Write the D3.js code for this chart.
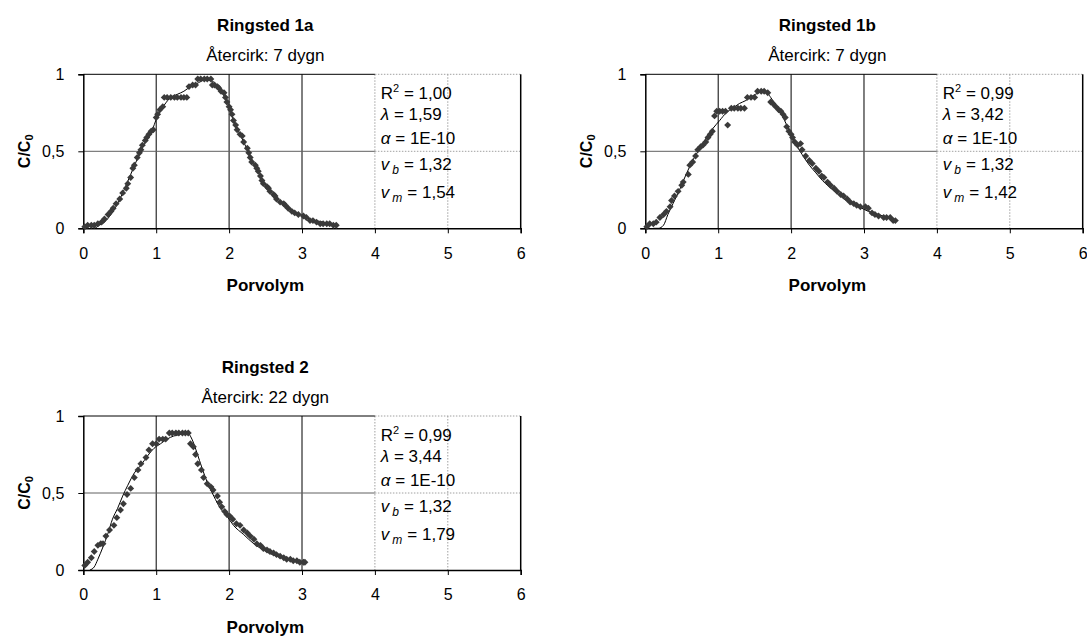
<!DOCTYPE html>
<html lang="da">
<head>
<meta charset="UTF-8">
<title>Ringsted</title>
<script src="https://cdn.jsdelivr.net/npm/d3@7"></script>
<style>
    * { margin: 0; padding: 0 }
    body { background: #fff; }
    text { font-family: "Liberation Sans", Arial, sans-serif; fill: #000; }
</style>
</head>
<body>
<svg id="chart" width="1087" height="637"></svg>
<script>
// --- data ---
const xTicks = [0, 1, 2, 3, 4, 5, 6];
const yTicks = [0, 0.5, 1];
const yTickLabels = ['0', '0,5', '1'];
const xLabel = 'Porvolym';

const titles = ['Ringsted 1a', 'Ringsted 1b', 'Ringsted 2'];
const subtitles = ['Återcirk: 7 dygn', 'Återcirk: 7 dygn', 'Återcirk: 22 dygn'];
const r2Values = ['1,00', '0,99', '0,99'];
const lambdaValues = ['1,59', '3,42', '3,44'];
const alphaValues = ['1E-10', '1E-10', '1E-10'];
const vbValues = ['1,32', '1,32', '1,32'];
const vmValues = ['1,54', '1,42', '1,79'];

// Ringsted 1a
const obs1x = [0.02, 0.06, 0.11, 0.15, 0.20, 0.25, 0.29, 0.34, 0.38, 0.41, 0.45, 0.50, 0.54, 0.59, 0.61, 0.65, 0.68, 0.70, 0.74, 0.77,
    0.79, 0.81, 0.85, 0.87, 0.90, 0.93, 0.96, 1.00, 1.02, 1.05, 1.09, 1.11, 1.15, 1.20, 1.25, 1.29, 1.34, 1.38, 1.42, 1.45,
    1.50, 1.54, 1.57, 1.61, 1.66, 1.70, 1.75, 1.77, 1.80, 1.84, 1.86, 1.89, 1.93, 1.95, 1.97, 2.00, 2.02, 2.04, 2.06, 2.09,
    2.11, 2.15, 2.18, 2.20, 2.25, 2.27, 2.29, 2.31, 2.36, 2.38, 2.40, 2.43, 2.45, 2.47, 2.52, 2.54, 2.56, 2.61, 2.63, 2.65,
    2.70, 2.75, 2.77, 2.81, 2.86, 2.90, 2.95, 3.02, 3.06, 3.11, 3.15, 3.20, 3.25, 3.29, 3.34, 3.38, 3.43, 3.47];
const obs1y = [0.01, 0.02, 0.02, 0.02, 0.03, 0.04, 0.06, 0.09, 0.11, 0.13, 0.16, 0.19, 0.23, 0.26, 0.29, 0.33, 0.39, 0.41, 0.46, 0.49,
    0.51, 0.54, 0.57, 0.59, 0.61, 0.63, 0.64, 0.72, 0.74, 0.77, 0.79, 0.85, 0.85, 0.85, 0.85, 0.85, 0.85, 0.85, 0.85, 0.92,
    0.93, 0.93, 0.97, 0.97, 0.97, 0.97, 0.97, 0.93, 0.93, 0.92, 0.91, 0.89, 0.88, 0.85, 0.82, 0.79, 0.77, 0.74, 0.70, 0.67,
    0.64, 0.61, 0.60, 0.56, 0.52, 0.49, 0.46, 0.43, 0.41, 0.39, 0.37, 0.34, 0.31, 0.29, 0.27, 0.26, 0.24, 0.22, 0.21, 0.19,
    0.17, 0.16, 0.15, 0.13, 0.11, 0.10, 0.09, 0.08, 0.07, 0.05, 0.05, 0.04, 0.03, 0.03, 0.03, 0.03, 0.02, 0.02];
const fit1x = [0.09, 0.15, 0.22, 0.29, 0.38, 0.47, 0.56, 0.65, 0.75, 0.84, 0.93, 1.02, 1.11, 1.20, 1.29, 1.38, 1.47, 1.56, 1.65, 1.72,
    1.79, 1.86, 1.93, 2.00, 2.06, 2.15, 2.25, 2.34, 2.43, 2.52, 2.65, 2.79, 2.93, 3.11, 3.29, 3.47];
const fit1y = [0.00, 0.00, 0.02, 0.04, 0.09, 0.16, 0.25, 0.35, 0.46, 0.55, 0.62, 0.73, 0.80, 0.85, 0.87, 0.89, 0.92, 0.94, 0.96, 0.96,
    0.95, 0.91, 0.86, 0.79, 0.70, 0.61, 0.51, 0.42, 0.34, 0.27, 0.20, 0.14, 0.10, 0.06, 0.04, 0.02];

// Ringsted 1b
const obs2x = [0.02, 0.06, 0.11, 0.15, 0.20, 0.25, 0.29, 0.34, 0.36, 0.40, 0.45, 0.50, 0.52, 0.59, 0.61, 0.65, 0.69, 0.72, 0.76, 0.79,
    0.83, 0.86, 0.89, 0.92, 0.95, 0.98, 1.02, 1.06, 1.10, 1.13, 1.18, 1.22, 1.27, 1.31, 1.36, 1.40, 1.45, 1.50, 1.54, 1.59,
    1.63, 1.68, 1.72, 1.75, 1.79, 1.83, 1.86, 1.89, 1.92, 1.94, 1.97, 2.00, 2.02, 2.05, 2.09, 2.13, 2.15, 2.20, 2.25, 2.29,
    2.34, 2.38, 2.42, 2.45, 2.50, 2.54, 2.59, 2.63, 2.68, 2.72, 2.77, 2.81, 2.86, 2.90, 2.95, 3.02, 3.06, 3.11, 3.15, 3.20,
    3.27, 3.31, 3.36, 3.40, 3.43];
const obs2y = [0.01, 0.03, 0.03, 0.04, 0.07, 0.09, 0.11, 0.14, 0.18, 0.21, 0.24, 0.28, 0.30, 0.35, 0.41, 0.43, 0.47, 0.51, 0.53, 0.54,
    0.56, 0.59, 0.61, 0.63, 0.73, 0.76, 0.76, 0.76, 0.76, 0.67, 0.78, 0.78, 0.78, 0.78, 0.78, 0.85, 0.85, 0.85, 0.89, 0.89,
    0.89, 0.88, 0.82, 0.81, 0.79, 0.77, 0.76, 0.74, 0.72, 0.66, 0.63, 0.61, 0.59, 0.56, 0.54, 0.55, 0.51, 0.47, 0.44, 0.42,
    0.39, 0.37, 0.34, 0.33, 0.30, 0.28, 0.26, 0.24, 0.22, 0.21, 0.19, 0.17, 0.16, 0.15, 0.14, 0.14, 0.13, 0.10, 0.09, 0.08,
    0.07, 0.07, 0.07, 0.05, 0.05];
const fit2x = [0.11, 0.18, 0.25, 0.31, 0.38, 0.47, 0.56, 0.65, 0.75, 0.84, 0.93, 1.02, 1.11, 1.20, 1.29, 1.38, 1.47, 1.56, 1.65, 1.72,
    1.79, 1.86, 1.93, 2.00, 2.06, 2.15, 2.25, 2.34, 2.43, 2.52, 2.65, 2.79, 2.93, 3.06, 3.20, 3.43];
const fit2y = [0.00, 0.00, 0.02, 0.09, 0.16, 0.25, 0.35, 0.44, 0.52, 0.59, 0.65, 0.70, 0.75, 0.78, 0.81, 0.83, 0.86, 0.88, 0.89, 0.85,
    0.80, 0.75, 0.68, 0.61, 0.55, 0.48, 0.41, 0.36, 0.31, 0.27, 0.22, 0.17, 0.14, 0.11, 0.09, 0.05];

// Ringsted 2
const obs3x = [0.02, 0.06, 0.11, 0.15, 0.20, 0.24, 0.27, 0.31, 0.36, 0.42, 0.46, 0.51, 0.55, 0.60, 0.65, 0.70, 0.75, 0.79, 0.86, 0.90,
    0.95, 1.00, 1.04, 1.09, 1.13, 1.18, 1.22, 1.27, 1.31, 1.36, 1.40, 1.44, 1.47, 1.51, 1.54, 1.57, 1.62, 1.65, 1.70, 1.75,
    1.78, 1.84, 1.87, 1.90, 1.94, 1.97, 2.01, 2.05, 2.10, 2.15, 2.20, 2.25, 2.29, 2.34, 2.38, 2.43, 2.47, 2.52, 2.56, 2.61,
    2.65, 2.70, 2.75, 2.79, 2.84, 2.88, 2.93, 2.97, 3.02, 3.04];
const obs3y = [0.03, 0.05, 0.08, 0.12, 0.16, 0.17, 0.17, 0.22, 0.26, 0.29, 0.34, 0.39, 0.43, 0.49, 0.53, 0.60, 0.65, 0.69, 0.73, 0.78,
    0.82, 0.82, 0.85, 0.85, 0.85, 0.89, 0.89, 0.89, 0.89, 0.89, 0.89, 0.89, 0.82, 0.80, 0.75, 0.69, 0.65, 0.60, 0.56, 0.54,
    0.52, 0.48, 0.44, 0.41, 0.38, 0.36, 0.35, 0.33, 0.30, 0.29, 0.26, 0.24, 0.22, 0.20, 0.17, 0.16, 0.14, 0.13, 0.12, 0.11,
    0.10, 0.09, 0.08, 0.07, 0.07, 0.06, 0.06, 0.05, 0.05, 0.05];
const fit3x = [0.09, 0.15, 0.20, 0.27, 0.34, 0.40, 0.47, 0.54, 0.61, 0.70, 0.79, 0.88, 0.97, 1.06, 1.15, 1.24, 1.33, 1.43, 1.49, 1.56,
    1.63, 1.70, 1.79, 1.88, 1.97, 2.06, 2.20, 2.34, 2.47, 2.65, 2.84, 3.04];
const fit3y = [0.00, 0.02, 0.07, 0.15, 0.24, 0.33, 0.40, 0.48, 0.55, 0.63, 0.68, 0.74, 0.79, 0.82, 0.85, 0.87, 0.88, 0.89, 0.85, 0.76,
    0.66, 0.57, 0.48, 0.40, 0.35, 0.29, 0.23, 0.17, 0.13, 0.09, 0.07, 0.05];

const panels = [
    { left: 83.3, top: 74.3, obsX: obs1x, obsY: obs1y, fitX: fit1x, fitY: fit1y },
    { left: 645.3, top: 74.3, obsX: obs2x, obsY: obs2y, fitX: fit2x, fitY: fit2y },
    { left: 83.3, top: 416, obsX: obs3x, obsY: obs3y, fitX: fit3x, fitY: fit3y }
];
const plotW = 437.4, plotH = 154;
const legendStart = 4; // textbox covers x 4..6

const svg = d3.select('#chart');

panels.forEach((p, i) => {
    let x = d3.scaleLinear().domain([0, 6]).range([0, plotW]),
        y = d3.scaleLinear().domain([0, 1]).range([plotH, 0]);

    let g = svg.append('g').attr('transform', `translate(${p.left},${p.top})`);

    // gridlines: solid left of the textbox, dotted under it
    let grid = g.append('g');
    xTicks.filter(t => t > 0 && t < 6).forEach(t => {
        let under = t >= legendStart;
        grid.append('line')
            .attr('x1', x(t)).attr('x2', x(t))
            .attr('y1', 0).attr('y2', plotH)
            .attr('stroke', under ? '#a0a0a0' : '#000')
            .attr('stroke-width', 1)
            .attr('stroke-dasharray', under ? '1.5,1.5' : null);
    });
    yTicks.filter(t => t > 0).forEach(t => {
        grid.append('line')
            .attr('x1', 0).attr('x2', x(legendStart))
            .attr('y1', y(t)).attr('y2', y(t))
            .attr('stroke', t === 1 ? '#000' : '#606060');
        grid.append('line')
            .attr('x1', x(legendStart)).attr('x2', x(6))
            .attr('y1', y(t)).attr('y2', y(t))
            .attr('stroke', '#a0a0a0')
            .attr('stroke-dasharray', '1.5,1.5');
    });
    // right border
    g.append('line')
        .attr('x1', x(6)).attr('x2', x(6))
        .attr('y1', 0).attr('y2', plotH)
        .attr('stroke', '#000').attr('stroke-width', 1.5);

    // axes
    let xAxis = d3.axisBottom(x).tickValues(xTicks).tickSize(5).tickPadding(14).tickFormat(d3.format('d'));
    let yAxis = d3.axisLeft(y).tickValues(yTicks).tickSize(5).tickPadding(14)
        .tickFormat((d, k) => yTickLabels[k]);
    let gx = g.append('g').attr('transform', `translate(0,${plotH})`).call(xAxis);
    let gy = g.append('g').call(yAxis);
    [gx, gy].forEach(a => {
        a.select('.domain').attr('stroke', '#000').attr('stroke-width', 1.5);
        a.selectAll('.tick line').attr('stroke', '#000');
        a.selectAll('.tick text')
            .style('font-family', '"Liberation Sans", Arial, sans-serif')
            .style('font-size', '16px')
            .attr('fill', '#000');
    });

    // fitted curve
    let line = d3.line()
        .x(d => x(d[0]))
        .y(d => y(d[1]))
        .curve(d3.curveMonotoneX);
    g.append('path')
        .datum(p.fitX.map((v, k) => [v, p.fitY[k]]))
        .attr('fill', 'none')
        .attr('stroke', '#000')
        .attr('stroke-width', 1)
        .attr('d', line);

    // observed points
    let diamond = d3.symbol().type(d3.symbolSquare).size(24);
    g.selectAll('path.obs')
        .data(p.obsX.map((v, k) => [v, p.obsY[k]]))
        .enter()
        .append('path')
        .classed('obs', true)
        .attr('d', diamond)
        .attr('fill', '#3a3a3a')
        .attr('transform', d => `translate(${x(d[0])},${y(d[1])}) rotate(45)`);

    // titles
    g.append('text')
        .attr('x', 182).attr('y', -43)
        .attr('text-anchor', 'middle')
        .style('font-size', '17px').style('font-weight', 'bold')
        .text(titles[i]);
    g.append('text')
        .attr('x', 182).attr('y', -13)
        .attr('text-anchor', 'middle')
        .style('font-size', '17px')
        .text(subtitles[i]);

    // axis titles
    g.append('text')
        .attr('x', 182).attr('y', plotH + 63)
        .attr('text-anchor', 'middle')
        .style('font-size', '17px').style('font-weight', 'bold')
        .text(xLabel);
    let yl = g.append('text')
        .attr('transform', `translate(-53,${plotH / 2}) rotate(-90)`)
        .attr('text-anchor', 'middle')
        .style('font-size', '16px').style('font-weight', 'bold');
    yl.append('tspan').text('C/C');
    yl.append('tspan').attr('dy', 3).style('font-size', '11px').text('0');

    // fit parameters textbox
    let lx = 297.5;
    let fs = '17px';
    let t1 = g.append('text').attr('x', lx).attr('y', 25).style('font-size', fs);
    t1.append('tspan').text('R');
    t1.append('tspan').attr('dy', -7).style('font-size', '11px').text('2');
    t1.append('tspan').attr('dy', 7).text(' = ' + r2Values[i]);

    let t2 = g.append('text').attr('x', lx).attr('y', 46).style('font-size', fs);
    t2.append('tspan').style('font-style', 'italic').text('λ');
    t2.append('tspan').text('  = ' + lambdaValues[i]);

    let t3 = g.append('text').attr('x', lx).attr('y', 70).style('font-size', fs);
    t3.append('tspan').style('font-style', 'italic').text('α');
    t3.append('tspan').text('  = ' + alphaValues[i]);

    let t4 = g.append('text').attr('x', lx).attr('y', 96).style('font-size', fs);
    t4.append('tspan').style('font-style', 'italic').text('v');
    t4.append('tspan').attr('dx', 3).attr('dy', 4).style('font-style', 'italic').style('font-size', '12px').text('b');
    t4.append('tspan').attr('dx', 5).attr('dy', -4).text('= ' + vbValues[i]);

    let t5 = g.append('text').attr('x', lx).attr('y', 124).style('font-size', fs);
    t5.append('tspan').style('font-style', 'italic').text('v');
    t5.append('tspan').attr('dx', 3).attr('dy', 4).style('font-style', 'italic').style('font-size', '12px').text('m');
    t5.append('tspan').attr('dx', 5).attr('dy', -4).text('= ' + vmValues[i]);
});
</script>
</body>
</html>
